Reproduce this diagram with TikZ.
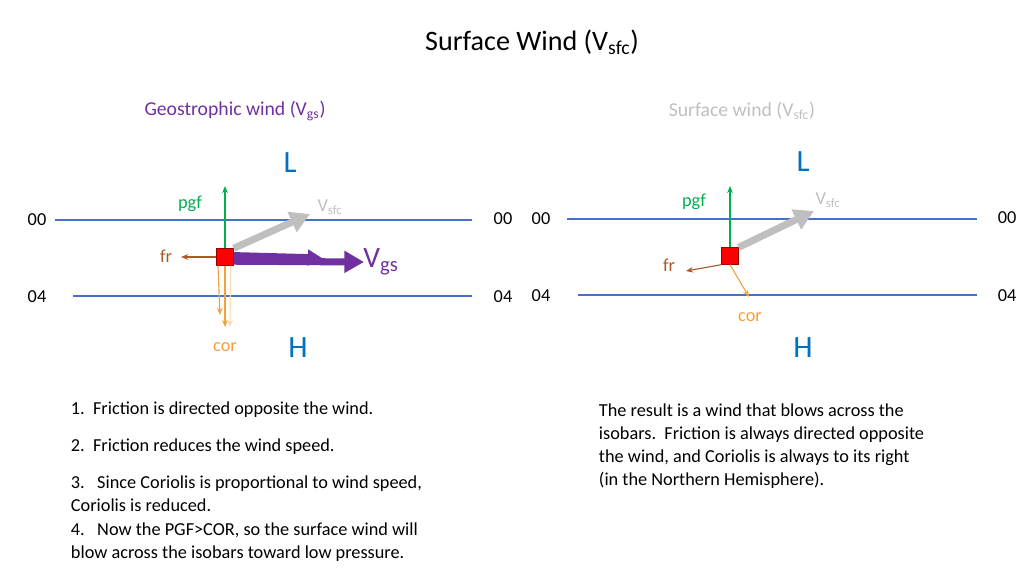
\documentclass[tikz,border=0pt]{standalone}
\usepackage{fontspec}
\setmainfont{Carlito}
\usetikzlibrary{arrows.meta,positioning}
\definecolor{isoblue}{RGB}{68,114,196}
\definecolor{pgfgreen}{RGB}{0,176,80}
\definecolor{frbrown}{RGB}{170,90,40}
\definecolor{corange}{RGB}{244,160,60}
\definecolor{vgspurple}{RGB}{112,48,160}
\definecolor{vsfcgray}{RGB}{191,191,191}
\definecolor{letterblue}{RGB}{0,112,192}
\begin{document}
\begin{tikzpicture}[x=0.025cm,y=-0.025cm,
            iso/.style={draw=isoblue,line width=1.2pt},
            isolabel/.style={font=\fontsize{13}{15}\selectfont},
            parcel/.style={draw=red!60!black,fill=red,minimum size=12pt,inner sep=0pt},
            force/.style={-{Stealth[length=5pt,width=4pt]},line width=0.8pt},
            flabel/.style={font=\fontsize{13}{15}\selectfont},
            wind/.style={-{Triangle[length=14pt,width=15pt]},line width=5pt},
            press/.style={text=letterblue,font=\fontsize{22}{26}\selectfont},
            body/.style={anchor=west,align=left,font=\fontsize{13}{16.5}\selectfont}
        ]
        \useasboundingbox (0,0) rectangle (1024,576);

        % Title %
        \node (title) at (532,42) {\fontsize{20}{24}\selectfont Surface Wind (V\textsubscript{sfc})};
        \node[text=vgspurple,font=\fontsize{14}{16}\selectfont] (hl) at (235,111) {Geostrophic wind (V\textsubscript{gs})};
        \node[text=vsfcgray,font=\fontsize{14}{16}\selectfont] (hr) at (742,111) {Surface wind (V\textsubscript{sfc})};

        % Left isobars %
        \node[isolabel] (l00a) at (37,220) {00};
        \node[isolabel] (l00b) at (503,219) {00};
        \node[isolabel] (l04a) at (37,297) {04};
        \node[isolabel] (l04b) at (503,297) {04};
        \draw[iso] (55,220) -- (472,220);
        \draw[iso] (73,296) -- (472,296);
        \node[press] (lL) at (290,163) {L};
        \node[press] (lH) at (298,348) {H};

        % Left forces %
        \node[parcel] (lp) at (225,257) {};
        \coordinate (lpgf) at (225,186);
        \coordinate (lfr) at (181,257);
        \coordinate (lcor1) at (220,315);
        \coordinate (lcor2) at (225,327);
        \coordinate (lcor3) at (230,327);
        \coordinate (lsfc) at (310,214);
        \coordinate (lgs1) at (322,258);
        \coordinate (lgs2) at (364,262);
        \draw[wind,vsfcgray] (lp.north east) -- (lsfc);
        \draw[wind,vgspurple,-{Triangle[length=10pt,width=11pt]}] ([yshift=1pt]lp.east) -- (lgs1);
        \draw[wind,vgspurple] ([yshift=-3pt]lp.east) -- (lgs2);
        \draw[force,pgfgreen] (lp.north) -- (lpgf);
        \draw[force,frbrown] (lp.west) -- (lfr);
        \draw[force,corange] ([xshift=-5pt]lp.south) -- (lcor1);
        \draw[force,corange] (lp.south) -- (lcor2);
        \draw[force,corange!40] ([xshift=4pt]lp.south) -- (lcor3);
        \node[flabel,text=pgfgreen] (lpgft) at (190,204) {pgf};
        \node[flabel,text=frbrown] (lfrt) at (166,256) {fr};
        \node[flabel,text=corange] (lcort) at (225,347) {cor};
        \node[flabel,text=vsfcgray] (lsfct) at (330,207) {V\textsubscript{sfc}};
        \node[text=vgspurple,font=\fontsize{21}{24}\selectfont] (lgst) at (381,262) {V\textsubscript{gs}};

        % Right isobars %
        \node[isolabel] (r00a) at (541,219) {00};
        \node[isolabel] (r00b) at (1007,218) {00};
        \node[isolabel] (r04a) at (541,296) {04};
        \node[isolabel] (r04b) at (1007,296) {04};
        \draw[iso] (567,219) -- (977,219);
        \draw[iso] (578,295) -- (977,295);
        \node[press] (rL) at (803,162) {L};
        \node[press] (rH) at (803,348) {H};

        % Right forces %
        \node[parcel] (rp) at (730,256) {};
        \coordinate (rpgf) at (730,186);
        \coordinate (rfr) at (686,271);
        \coordinate (rcor) at (749,297);
        \coordinate (rsfc) at (814,211);
        \draw[wind,vsfcgray] (rp.north east) -- (rsfc);
        \draw[force,pgfgreen] (rp.north) -- (rpgf);
        \draw[force,frbrown] (rp.south west) -- (rfr);
        \draw[force,corange] (rp.south) -- (rcor);
        \node[flabel,text=pgfgreen] (rpgft) at (694,202) {pgf};
        \node[flabel,text=frbrown] (rfrt) at (669,265) {fr};
        \node[flabel,text=corange] (rcort) at (750,317) {cor};
        \node[flabel,text=vsfcgray] (rsfct) at (828,200) {V\textsubscript{sfc}};

        % Notes %
        \node[body] (n1) at (66,410) {1.\ \ Friction is directed opposite the wind.};
        \node[body] (n2) at (66,447) {2.\ \ Friction reduces the wind speed.};
        \node[body] (n3) at (66,494) {3.\ \ \ Since Coriolis is proportional to wind speed,\\Coriolis is reduced.};
        \node[body] (n4) at (66,542) {4.\ \ \ Now the PGF>COR, so the surface wind will\\blow across the isobars toward low pressure.};
        \node[body] (res) at (594,446) {The result is a wind that blows across the\\isobars.\ \ Friction is always directed opposite\\the wind, and Coriolis is always to its right\\(in the Northern Hemisphere).};
\end{tikzpicture}
\end{document}
